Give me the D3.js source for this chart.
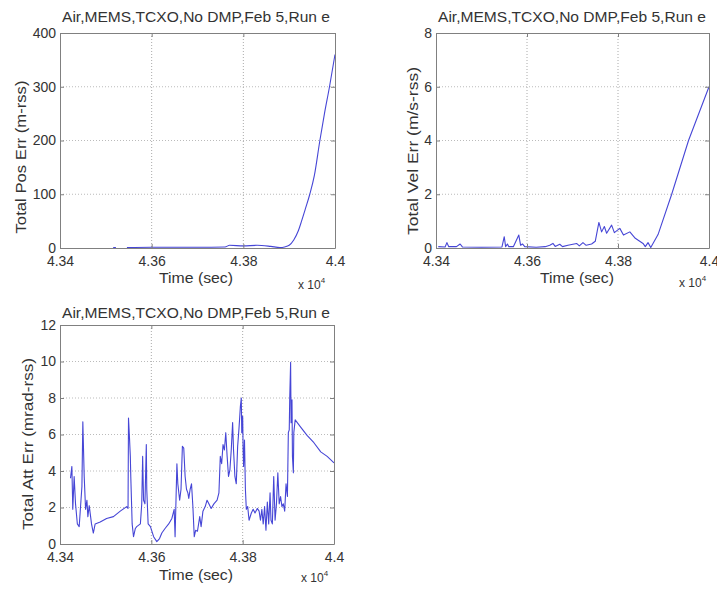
<!DOCTYPE html>
<html>
<head>
<meta charset="utf-8">
<script src="https://cdn.jsdelivr.net/npm/d3@7"></script>
<style>
  body { margin: 0; background: #fff; }
  svg text { font-family: "Liberation Sans", Arial, sans-serif; fill: #333; }
</style>
</head>
<body>
<svg id="chart" width="717" height="592"></svg>
<script>
const titleText = "Air,MEMS,TCXO,No DMP,Feb 5,Run e";
const xLabel = "Time (sec)";
const timeTicks = [4.34, 4.36, 4.38, 4.40];
const posTicks = [0, 100, 200, 300, 400];
const velTicks = [0, 2, 4, 6, 8];
const attTicks = [0, 2, 4, 6, 8, 10, 12];

// position error (m-rss), time in units of 10^4 s
const posTime = [4.3516, 4.3522, 4.3530, 4.3546, 4.3600, 4.3700, 4.3760, 4.3770, 4.3800, 4.3830,
  4.3860, 4.3880, 4.3890, 4.3900, 4.3910, 4.3920, 4.3927, 4.3935, 4.3945, 4.3955,
  4.3967, 4.3977, 4.3988, 4.4000];
const posErr = [1, 1, null, 1, 1.5, 1.5, 2, 5, 4, 5,
  3, 1, 2, 5, 15, 32, 50, 72, 100, 135,
  200, 250, 300, 360];

// velocity error (m/s-rss)
const velTime = [4.3405, 4.3420, 4.3424, 4.3428, 4.3445, 4.3453, 4.3458, 4.3500, 4.3545, 4.3550,
  4.3553, 4.3557, 4.3560, 4.3570, 4.3582, 4.3586, 4.3590, 4.3595, 4.3620, 4.3640,
  4.3650, 4.3657, 4.3662, 4.3672, 4.3678, 4.3690, 4.3709, 4.3715, 4.3723, 4.3730,
  4.3742, 4.3750, 4.3758, 4.3764, 4.3770, 4.3775, 4.3786, 4.3792, 4.3804, 4.3812,
  4.3826, 4.3838, 4.3855, 4.3860, 4.3866, 4.3872, 4.3888, 4.3918, 4.3955, 4.4000];
const velErr = [0.05, 0.04, 0.2, 0.05, 0.05, 0.15, 0.04, 0.03, 0.04, 0.42,
  0.05, 0.15, 0.05, 0.05, 0.48, 0.1, 0.15, 0.05, 0.03, 0.05,
  0.1, 0.17, 0.06, 0.14, 0.05, 0.1, 0.17, 0.08, 0.2, 0.1,
  0.15, 0.25, 0.95, 0.6, 0.8, 0.55, 0.85, 0.57, 0.73, 0.48,
  0.6, 0.36, 0.17, 0.05, 0.2, 0.02, 0.5, 2.0, 4.0, 6.0];

// attitude error (mrad-rss)
const attTime = [4.3423, 4.3426, 4.3428, 4.3431, 4.3434, 4.3438, 4.3442, 4.3448, 4.3450, 4.3453,
  4.3456, 4.3459, 4.3461, 4.3464, 4.3469, 4.3473, 4.3477, 4.3488, 4.3502, 4.3517,
  4.3532, 4.3546, 4.3549, 4.3550, 4.3552, 4.3554, 4.3555, 4.3558, 4.3561, 4.3565,
  4.3568, 4.3576, 4.3579, 4.3581, 4.3583, 4.3586, 4.3589, 4.3590, 4.3593, 4.3598,
  4.3605, 4.3612, 4.3618, 4.3623, 4.3630, 4.3638, 4.3645, 4.3650, 4.3652, 4.3654,
  4.3656, 4.3658, 4.3662, 4.3665, 4.3668, 4.3671, 4.3674, 4.3677, 4.3680, 4.3682,
  4.3685, 4.3688, 4.3691, 4.3694, 4.3697, 4.3701, 4.3706, 4.3709, 4.3713, 4.3718,
  4.3722, 4.3726, 4.3731, 4.3737, 4.3744, 4.3748, 4.3751, 4.3754, 4.3757, 4.3760,
  4.3763, 4.3766, 4.3769, 4.3772, 4.3775, 4.3778, 4.3780, 4.3783, 4.3786, 4.3789,
  4.3792, 4.3795, 4.3797, 4.3798, 4.3800, 4.3801, 4.3802, 4.3804, 4.3806, 4.3808,
  4.3811, 4.3814, 4.3819, 4.3823, 4.3827, 4.3832, 4.3836, 4.3839, 4.3842, 4.3845,
  4.3848, 4.3851, 4.3854, 4.3857, 4.3860, 4.3862, 4.3865, 4.3868, 4.3871, 4.3874,
  4.3877, 4.3880, 4.3883, 4.3886, 4.3889, 4.3892, 4.3895, 4.3898, 4.3900, 4.3902,
  4.3903, 4.3905, 4.3906, 4.3908, 4.3909, 4.3911, 4.3912, 4.3915, 4.3927, 4.3941,
  4.3956, 4.3971, 4.3985, 4.4000];
const attErr = [3.6, 4.25, 1.9, 3.7, 2.2, 1.1, 0.95, 3.15, 6.7, 3.7,
  1.9, 2.4, 1.5, 2.1, 1.1, 0.6, 1.1, 1.2, 1.4, 1.5,
  1.8, 2.05, 1.95, 6.9, 5.9, 4.8, 3.7, 1.1, 0.4, 0.85,
  0.95, 1.1, 2.2, 4.8, 2.4, 2.2, 5.45, 3.0, 1.1, 0.95,
  0.4, 0.13, 0.3, 0.6, 0.85, 1.1, 1.4, 1.9, 0.4, 2.4,
  4.4, 3.3, 2.4, 3.0, 5.35, 5.25, 3.7, 3.0, 2.8, 2.5,
  3.0, 3.3, 2.05, 0.4, 0.75, 0.7, 1.5, 0.95, 1.8, 2.05,
  2.4, 2.2, 1.95, 2.2, 2.4, 2.8, 4.8, 4.4, 5.45, 5.15,
  6.1, 4.8, 3.7, 4.05, 5.15, 6.65, 5.15, 3.7, 3.3, 5.35,
  6.35, 7.55, 8.0, 6.1, 7.0, 5.15, 4.25, 5.7, 3.0, 1.9,
  2.05, 1.3, 1.7, 1.9, 1.7, 1.95, 1.8, 1.3, 1.9, 1.1,
  2.05, 0.75, 2.3, 1.1, 2.8, 1.3, 1.1, 3.7, 1.3, 2.2,
  3.9, 2.2, 2.6, 2.05, 2.2, 1.8, 3.3, 2.6, 6.1, 6.25,
  7.9, 9.95, 6.65, 7.9, 4.8, 3.9, 6.1, 6.8, 6.4, 5.95,
  5.55, 5.05, 4.8, 4.45];

const svg = d3.select("#chart");
const lineColor = "#4646d6";

const panels = [
  { yLabel: "Total Pos Err (m-rss)", ticks: posTicks, time: posTime, vals: posErr, smooth: true,
    left: 60, top: 33, right: 335, bottom: 248,
    titleX: 196, titleY: 22, ylabX: 21, ylabY: 157, ylabLen: 153,
    xlabX: 196, xlabY: 283, expX: 298, expY: 289 },
  { yLabel: "Total Vel Err (m/s-rss)", ticks: velTicks, time: velTime, vals: velErr, smooth: false,
    left: 436, top: 33, right: 709, bottom: 248,
    titleX: 572, titleY: 22, ylabX: 413, ylabY: 151, ylabLen: 168,
    xlabX: 577, xlabY: 283, expX: 679, expY: 287 },
  { yLabel: "Total Att Err (mrad-rss)", ticks: attTicks, time: attTime, vals: attErr, smooth: false,
    left: 60, top: 325, right: 334, bottom: 544,
    titleX: 196, titleY: 318, ylabX: 28, ylabY: 444, ylabLen: 172,
    xlabX: 196, xlabY: 580, expX: 301, expY: 582 }
];

panels.forEach(p => {
  const x = d3.scaleLinear().domain(d3.extent(timeTicks)).range([p.left, p.right]);
  const y = d3.scaleLinear().domain(d3.extent(p.ticks)).range([p.bottom, p.top]);
  const g = svg.append("g");

  // dotted grid on interior ticks
  g.selectAll(".vgrid")
    .data(timeTicks.slice(1, -1))
    .join("line")
    .attr("x1", d => x(d)).attr("x2", d => x(d))
    .attr("y1", p.top).attr("y2", p.bottom)
    .attr("stroke", "#aaa").attr("stroke-dasharray", "1,2");
  g.selectAll(".hgrid")
    .data(p.ticks.slice(1, -1))
    .join("line")
    .attr("x1", p.left).attr("x2", p.right)
    .attr("y1", d => y(d)).attr("y2", d => y(d))
    .attr("stroke", "#bbb").attr("stroke-dasharray", "1,2");

  // the data line
  const line = d3.line()
    .defined(d => d[1] !== null)
    .x(d => x(d[0]))
    .y(d => y(d[1]))
    .curve(p.smooth ? d3.curveMonotoneX : d3.curveLinear);
  g.append("path")
    .datum(d3.zip(p.time, p.vals))
    .attr("fill", "none")
    .attr("stroke", lineColor)
    .attr("stroke-width", 1.1)
    .attr("stroke-linejoin", "round")
    .attr("d", line);

  // axes, MATLAB style ticks pointing inward
  const fmt = d3.format("");
  const bottomAxis = g.append("g").attr("transform", `translate(0,${p.bottom})`)
    .call(d3.axisBottom(x).tickValues(timeTicks).tickSize(-4).tickSizeOuter(0).tickPadding(8).tickFormat(fmt));
  const leftAxis = g.append("g").attr("transform", `translate(${p.left},0)`)
    .call(d3.axisLeft(y).tickValues(p.ticks).tickSize(-4).tickSizeOuter(0).tickPadding(4).tickFormat(fmt));
  const topAxis = g.append("g").attr("transform", `translate(0,${p.top})`)
    .call(d3.axisTop(x).tickValues(timeTicks).tickSize(-4).tickSizeOuter(0).tickFormat(""));
  const rightAxis = g.append("g").attr("transform", `translate(${p.right},0)`)
    .call(d3.axisRight(y).tickValues(p.ticks).tickSize(-4).tickSizeOuter(0).tickFormat(""));

  [bottomAxis, leftAxis, topAxis, rightAxis].forEach(a => {
    a.select(".domain").attr("stroke", "#808080");
    a.selectAll(".tick line").attr("stroke", "#808080");
    a.selectAll("text").attr("font-size", 14).attr("fill", "#333")
      .attr("font-family", "'Liberation Sans', Arial, sans-serif");
  });

  // title
  g.append("text")
    .attr("x", p.titleX).attr("y", p.titleY)
    .attr("text-anchor", "middle")
    .attr("font-size", 14)
    .attr("textLength", 268).attr("lengthAdjust", "spacingAndGlyphs")
    .text(titleText);

  // x label
  g.append("text")
    .attr("x", p.xlabX).attr("y", p.xlabY)
    .attr("text-anchor", "middle")
    .attr("font-size", 14)
    .attr("textLength", 74).attr("lengthAdjust", "spacingAndGlyphs")
    .text(xLabel);

  // y label
  g.append("text")
    .attr("transform", `translate(${p.ylabX},${p.ylabY}) rotate(-90)`)
    .attr("text-anchor", "middle")
    .attr("dominant-baseline", "central")
    .attr("font-size", 14)
    .attr("textLength", p.ylabLen).attr("lengthAdjust", "spacingAndGlyphs")
    .text(p.yLabel);

  // exponent note
  const ex = g.append("text")
    .attr("x", p.expX).attr("y", p.expY)
    .attr("font-size", 12);
  ex.append("tspan").text("x 10");
  ex.append("tspan").attr("font-size", 8).attr("dy", -6).text("4");
});
</script>
</body>
</html>
